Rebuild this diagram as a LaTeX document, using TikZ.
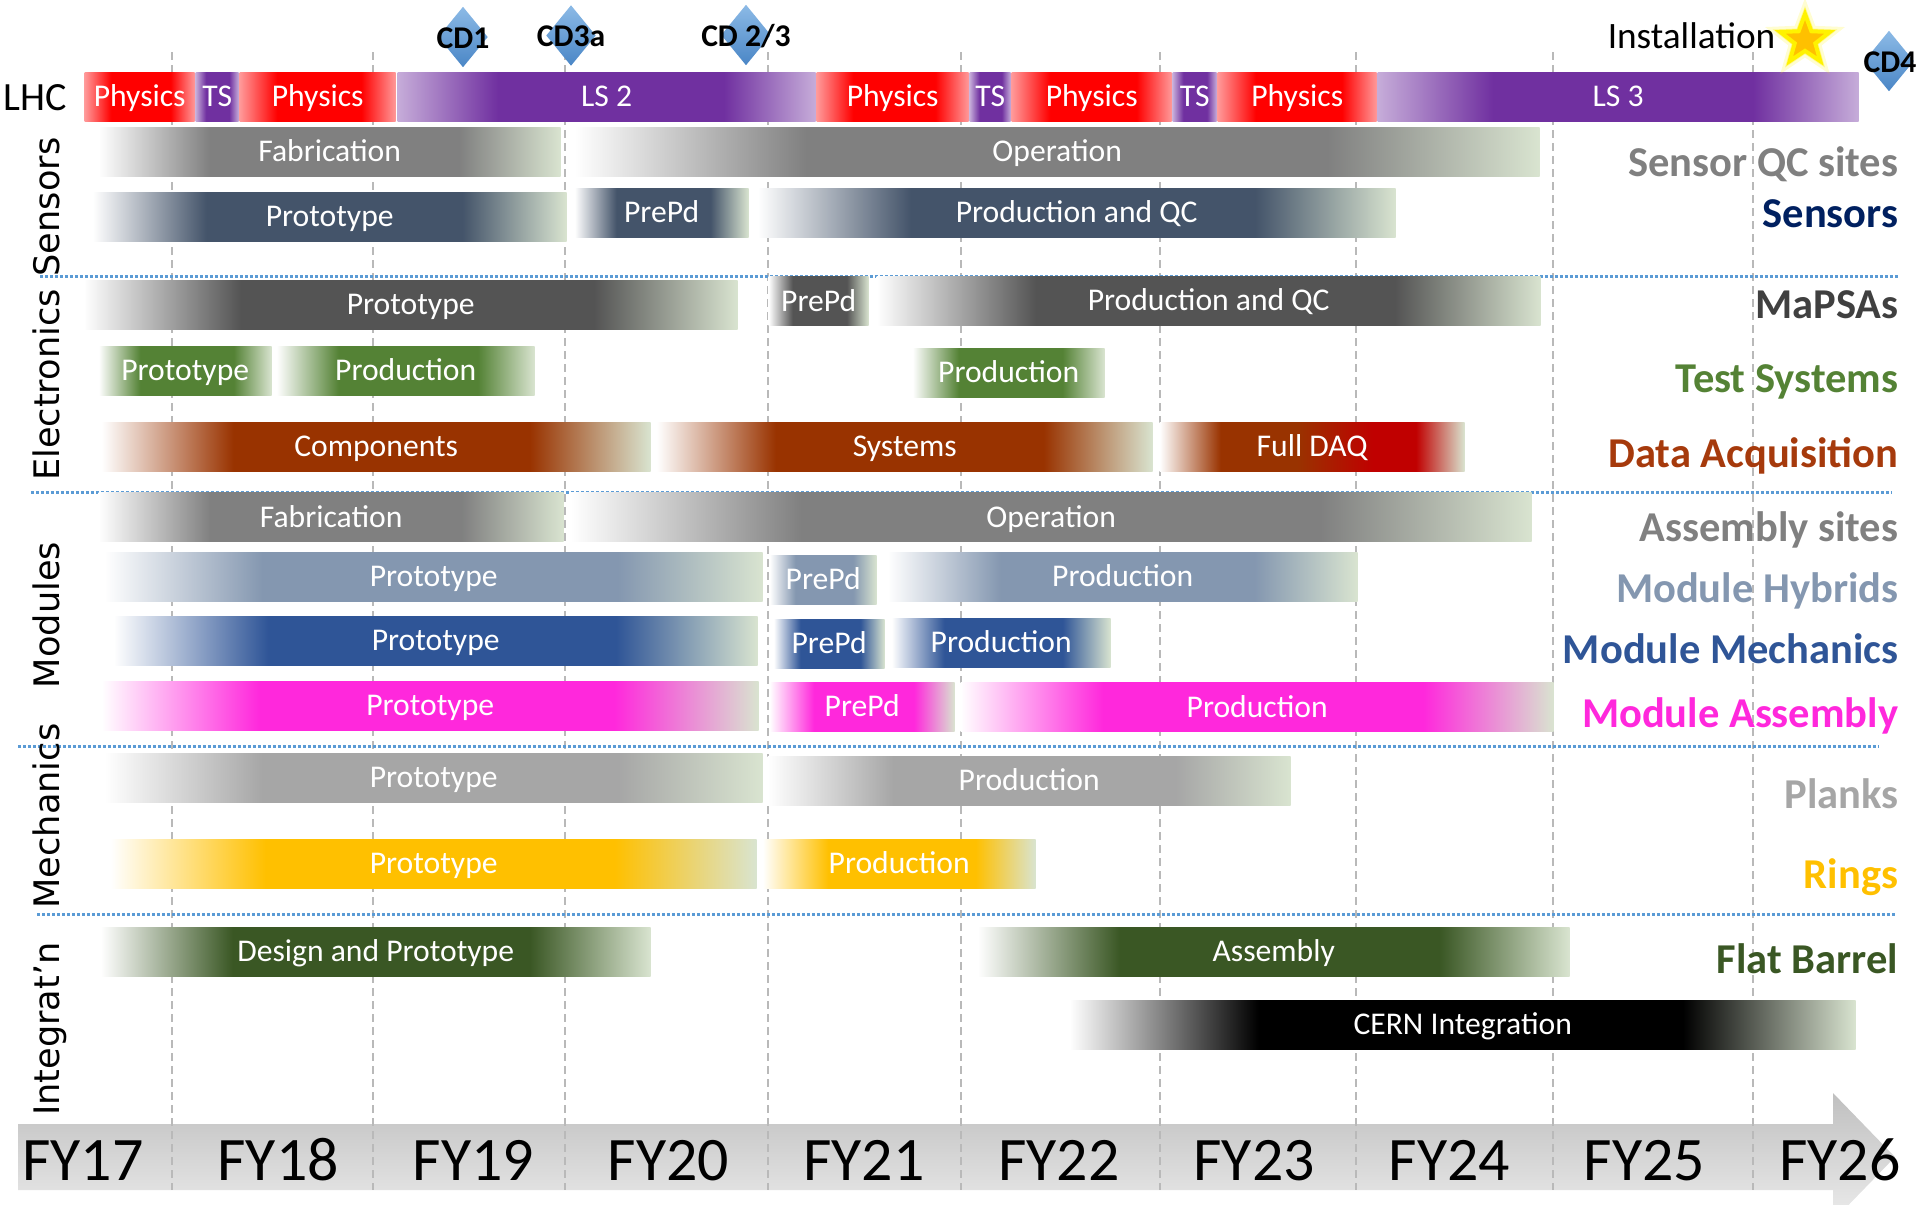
\documentclass[tikz,border=0pt]{standalone}
\usepackage{fontspec}
\setmainfont{Carlito}
\newfontfamily\sidefont{DejaVu Sans}
\usetikzlibrary{shapes.geometric}

\definecolor{paleg}{HTML}{D9E4D0}
\definecolor{physred}{HTML}{FF0000}
\definecolor{lspurple}{HTML}{7030A0}
\definecolor{opgray}{HTML}{808080}
\definecolor{sensslate}{HTML}{44546A}
\definecolor{sensnavy}{HTML}{002060}
\definecolor{mapsagray}{HTML}{545454}
\definecolor{mapsalabel}{HTML}{404040}
\definecolor{testgreen}{HTML}{548235}
\definecolor{daqbrown}{HTML}{993300}
\definecolor{daqred}{HTML}{C00000}
\definecolor{daqlabel}{HTML}{A63A0C}
\definecolor{hybblue}{HTML}{8497B0}
\definecolor{mechblue}{HTML}{2F5597}
\definecolor{asmpink}{HTML}{FF28DC}
\definecolor{plankgray}{HTML}{A6A6A6}
\definecolor{ringgold}{HTML}{FFC000}
\definecolor{barrelgreen}{HTML}{3A5724}
\definecolor{sepblue}{HTML}{5B9BD5}
\definecolor{cdhi}{HTML}{8CBAE6}
\definecolor{cdlo}{HTML}{4A86C6}
\colorlet{barbeg}{white}
\colorlet{barcol}{gray}
\colorlet{barend}{paleg}

% fade in from the left, fade out to pale green on the right
\pgfdeclarehorizontalshading[barbeg,barcol,barend]{barshade}{100bp}{color(0bp)=(barbeg); color(25bp)=(barbeg); color(37bp)=(barcol); color(64bp)=(barcol); color(75bp)=(barend); color(100bp)=(barend)}
\pgfdeclarehorizontalshading{daqshade}{100bp}{color(0bp)=(white); color(25bp)=(white); color(35bp)=(daqbrown); color(47.5bp)=(daqbrown); color(60bp)=(daqred); color(67bp)=(daqred); color(75bp)=(paleg); color(100bp)=(paleg)}

\tikzset{
  bar/.style={shade, shading=barshade, anchor=west, inner sep=0pt, minimum height=4.9mm,
    text=white, font=\fontsize{9}{10}\selectfont, text height=5.8pt, text depth=0pt},
  barc/.code={\colorlet{barcol}{#1}\colorlet{barbeg}{white}\colorlet{barend}{paleg}},
  lhcc/.code={\colorlet{barcol}{#1}\colorlet{barbeg}{#1!40!white}\colorlet{barend}{#1!40!white}},
  barlen/.style={minimum width=#1*0.1mm},
  grplabel/.style={anchor=base east, inner sep=0pt, font=\bfseries\fontsize{12.1}{14}\selectfont},
  seclabel/.style={rotate=90, anchor=base, inner sep=0pt, font=\sidefont\fontsize{10}{12}\selectfont},
  year/.style={anchor=base, inner sep=0pt, font=\fontsize{17.6}{20}\selectfont},
  milestone/.style={diamond, inner sep=0pt, minimum width=5mm, minimum height=6.1mm, top color=cdhi, bottom color=cdlo},
  cdlabel/.style={inner sep=0pt, font=\bfseries\fontsize{9}{10}\selectfont},
  gridline/.style={gray!55, line width=0.15mm, dash pattern=on 0.8mm off 0.5mm},
  sepline/.style={sepblue, line width=0.3mm, dash pattern=on 0.3mm off 0.2mm},
}

\begin{document}
\begin{tikzpicture}[x=0.1mm, y=-0.1mm]
  \useasboundingbox (0,0) rectangle (1920,1204);

  % time axis
  \begin{scope}
    \clip (0,0) rectangle (1920,1204);
    \shade[top color=gray!50, bottom color=gray!15] (18,1124) -- (1833,1124) -- (1833,1093) -- (1895,1157) -- (1833,1221) -- (1833,1190) -- (18,1190) -- cycle;
  \end{scope}
  \foreach \gx in {172,373,565,768,961,1160,1356,1553,1753}
    \draw[gridline] (\gx,52) -- (\gx,1190);
  \foreach \yr [count=\i from 0] in {17,...,26}
    \node[year] (fy\yr) at (83+195.2*\i,1180) {FY\yr};

  % section separators
  \draw[sepline] (40,276) -- (1899,276);
  \draw[sepline] (31,492) -- (1891,492);
  \draw[sepline] (18,746) -- (1878,746);
  \draw[sepline] (37,914) -- (1896,914);

  \node[seclabel] (secSens) at (60,207) {Sensors};
  \node[seclabel] (secElec) at (60,385) {Electronics};
  \node[seclabel] (secMod) at (60,615) {Modules};
  \node[seclabel] (secMech) at (60,816) {Mechanics};
  \node[seclabel] (secInt) at (60,1029) {Integrat’n};

  % LHC schedule
  \node[anchor=base, inner sep=0pt, font=\fontsize{11.4}{13}\selectfont] (lhc) at (35,110) {LHC};
  \node[bar, lhcc=physred, barlen=110] (lhcA) at (84,96.5) {Physics};
  \node[bar, lhcc=lspurple, barlen=43] (lhcB) at (195,96.5) {TS};
  \node[bar, lhcc=physred, barlen=156] (lhcC) at (239,96.5) {Physics};
  \node[bar, lhcc=lspurple, barlen=418] (lhcD) at (397,96.5) {LS 2};
  \node[bar, lhcc=physred, barlen=152] (lhcE) at (816,96.5) {Physics};
  \node[bar, lhcc=lspurple, barlen=41] (lhcF) at (969,96.5) {TS};
  \node[bar, lhcc=physred, barlen=160] (lhcG) at (1011,96.5) {Physics};
  \node[bar, lhcc=lspurple, barlen=44] (lhcH) at (1172,96.5) {TS};
  \node[bar, lhcc=physred, barlen=159] (lhcI) at (1217,96.5) {Physics};
  \node[bar, lhcc=lspurple, barlen=481] (lhcJ) at (1377,96.5) {LS 3};

  % milestones
  \node[milestone] (cdOne) at (463,37) {};
  \node[cdlabel] (cdOneTxt) at (463,38) {CD1};
  \node[milestone] (cdThreeA) at (571,35.5) {};
  \node[cdlabel] (cdThreeATxt) at (571,36) {CD3a};
  \node[milestone] (cdTwoThree) at (746,35) {};
  \node[cdlabel] (cdTwoThreeTxt) at (746,36) {CD 2/3};
  \node[milestone] (cdFour) at (1889,61) {};
  \node[cdlabel] (cdFourTxt) at (1890,62) {CD4};
  \node[anchor=base east, inner sep=0pt, font=\fontsize{10.6}{12}\selectfont] (install) at (1776,48) {Installation};
  \node[star, star points=5, star point ratio=2.4, inner sep=0pt, minimum size=8.4mm, fill=yellow, opacity=0.18] (starGlowB) at (1805,40) {};
  \node[star, star points=5, star point ratio=2.4, inner sep=0pt, minimum size=6.8mm, fill=yellow, opacity=0.35] (starGlowA) at (1805,40) {};
  \node[star, star points=5, star point ratio=2.4, inner sep=0pt, minimum size=5.2mm, fill=ringgold, draw=yellow, line width=0.4mm] (star) at (1805,40) {};

  % sensors
  \node[bar, barc=opgray, barlen=462] (sqcFab) at (98,151.5) {Fabrication};
  \node[bar, barc=opgray, barlen=965] (sqcOp) at (574,151.5) {Operation};
  \node[bar, barc=sensslate, barlen=474] (snsProto) at (92,216.5) {Prototype};
  \node[bar, barc=sensslate, barlen=174] (snsPre) at (574,212.5) {PrePd};
  \node[bar, barc=sensslate, barlen=638] (snsProd) at (757,212.5) {Production and QC};

  % electronics
  \node[bar, barc=mapsagray, barlen=654] (mpsProto) at (83,304.5) {Prototype};
  \node[bar, barc=mapsagray, barlen=100] (mpsPre) at (768,301) {PrePd};
  \node[bar, barc=mapsagray, barlen=664] (mpsProd) at (876,300.5) {Production and QC};
  \node[bar, barc=testgreen, barlen=173] (tsProto) at (98,370.5) {Prototype};
  \node[bar, barc=testgreen, barlen=258] (tsProd) at (276,370.5) {Production};
  \node[bar, barc=testgreen, barlen=192] (tsProdB) at (912,372.5) {Production};
  \node[bar, barc=daqbrown, barlen=549] (daqComp) at (101,446.5) {Components};
  \node[bar, barc=daqbrown, barlen=496] (daqSys) at (656,446.5) {Systems};
  \node[bar, shading=daqshade, barlen=305] (daqFull) at (1159,446.5) {Full DAQ};

  % modules
  \node[bar, barc=opgray, barlen=465] (asFab) at (98,517) {Fabrication};
  \node[bar, barc=opgray, barlen=961] (asOp) at (570,517) {Operation};
  \node[bar, barc=hybblue, barlen=658] (hybProto) at (104,576.5) {Prototype};
  \node[bar, barc=hybblue, barlen=107] (hybPre) at (769,579.5) {PrePd};
  \node[bar, barc=hybblue, barlen=470] (hybProd) at (887,576.5) {Production};
  \node[bar, barc=mechblue, barlen=644] (mmProto) at (113,640.5) {Prototype};
  \node[bar, barc=mechblue, barlen=111] (mmPre) at (773,643.5) {PrePd};
  \node[bar, barc=mechblue, barlen=219] (mmProd) at (891,642.5) {Production};
  \node[bar, barc=asmpink, barlen=657] (maProto) at (101,705.5) {Prototype};
  \node[bar, barc=asmpink, barlen=185] (maPre) at (769,706.5) {PrePd};
  \node[bar, barc=asmpink, barlen=593] (maProd) at (960,707) {Production};

  % mechanics
  \node[bar, barc=plankgray, barlen=658] (plProto) at (104,777.5) {Prototype};
  \node[bar, barc=plankgray, barlen=523] (plProd) at (767,780.5) {Production};
  \node[bar, barc=ringgold, barlen=646] (rgProto) at (110,863.5) {Prototype};
  \node[bar, barc=ringgold, barlen=273] (rgProd) at (762,863.5) {Production};

  % integration
  \node[bar, barc=barrelgreen, barlen=550] (fbDesign) at (100,951.5) {Design and Prototype};
  \node[bar, barc=barrelgreen, barlen=592] (fbAsm) at (977,951.5) {Assembly};
  \node[bar, barc=black, barlen=786] (cernInt) at (1069,1024.5) {CERN Integration};

  % row names
  \node[grplabel, text=opgray] (lblSqc) at (1899,176) {Sensor QC sites};
  \node[grplabel, text=sensnavy] (lblSens) at (1899,227) {Sensors};
  \node[grplabel, text=mapsalabel] (lblMaps) at (1899,318) {MaPSAs};
  \node[grplabel, text=testgreen] (lblTest) at (1899,392) {Test Systems};
  \node[grplabel, text=daqlabel] (lblDaq) at (1899,467) {Data Acquisition};
  \node[grplabel, text=opgray] (lblAsm) at (1899,541) {Assembly sites};
  \node[grplabel, text=hybblue] (lblHyb) at (1899,602) {Module Hybrids};
  \node[grplabel, text=mechblue] (lblMech) at (1899,663) {Module Mechanics};
  \node[grplabel, text=asmpink] (lblModAsm) at (1899,727) {Module Assembly};
  \node[grplabel, text=plankgray] (lblPlank) at (1899,808) {Planks};
  \node[grplabel, text=ringgold] (lblRing) at (1899,888) {Rings};
  \node[grplabel, text=barrelgreen] (lblBarrel) at (1899,973) {Flat Barrel};
\end{tikzpicture}
\end{document}
